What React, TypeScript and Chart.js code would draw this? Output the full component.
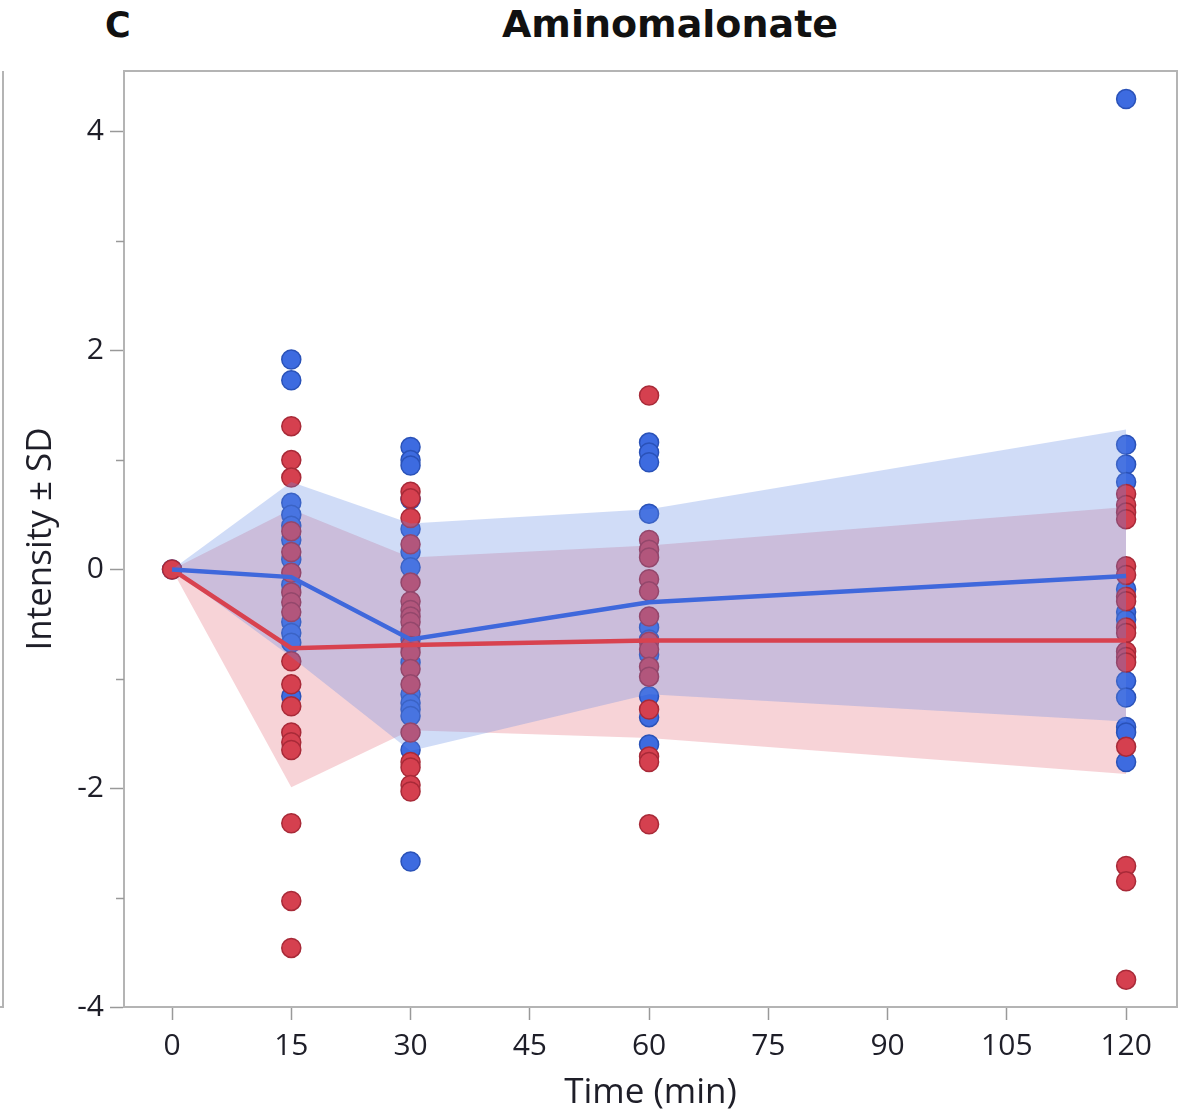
import React, { useEffect, useRef } from "react";
import { Chart, registerables } from "chart.js";

Chart.register(...registerables);

const TIMES = [0, 15, 30, 60, 120];
const X_TICKS = [0, 15, 30, 45, 60, 75, 90, 105, 120];
const Y_TICKS = [-4, -2, 0, 2, 4];
const Y_MINOR = [-3, -1, 1, 3];

const BLUE_MEAN = [0, -0.07, -0.64, -0.3, -0.06];
const BLUE_UPPER = [0, 0.8, 0.42, 0.55, 1.28];
const BLUE_LOWER = [0, -0.8, -1.66, -1.14, -1.39];

const RED_MEAN = [0, -0.72, -0.69, -0.65, -0.65];
const RED_UPPER = [0, 0.55, 0.11, 0.22, 0.57];
const RED_LOWER = [0, -1.99, -1.47, -1.54, -1.87];

const BLUE_0 = [0];
const BLUE_15 = [1.92, 1.73, 0.61, 0.5, 0.4, 0.27, 0.09, -0.14, -0.48, -0.58, -0.67, -1.16];
const BLUE_30 = [1.12, 1.0, 0.95, 0.64, 0.37, 0.16, 0.02, -0.64, -0.85, -1.14, -1.22, -1.28, -1.34, -1.65, -2.67];
const BLUE_60 = [1.16, 1.07, 0.98, 0.51, -0.53, -0.64, -0.78, -1.16, -1.35, -1.6];
const BLUE_120 = [4.3, 1.14, 0.96, 0.8, -0.18, -0.39, -0.46, -1.02, -1.17, -1.44, -1.49, -1.76];

const RED_0 = [0];
const RED_15 = [1.31, 1.0, 0.84, 0.35, 0.16, -0.03, -0.21, -0.3, -0.39, -0.84, -1.05, -1.25, -1.49, -1.58, -1.65, -2.32, -3.03, -3.46];
const RED_30 = [0.71, 0.65, 0.47, 0.23, -0.12, -0.29, -0.37, -0.43, -0.48, -0.57, -0.7, -0.76, -0.91, -1.05, -1.49, -1.76, -1.81, -1.97, -2.03];
const RED_60 = [1.59, 0.27, 0.18, 0.11, -0.09, -0.2, -0.43, -0.66, -0.73, -0.89, -0.98, -1.28, -1.71, -1.76, -2.33];
const RED_120 = [0.69, 0.59, 0.52, 0.46, 0.03, -0.05, -0.25, -0.29, -0.53, -0.58, -0.75, -0.8, -0.85, -1.62, -2.71, -2.85, -3.75];

const BLUE_POINTS = [BLUE_0, BLUE_15, BLUE_30, BLUE_60, BLUE_120];
const RED_POINTS = [RED_0, RED_15, RED_30, RED_60, RED_120];

const toXY = (vals: number[]) => TIMES.map((t, i) => ({ x: t, y: vals[i] }));
const toScatter = (groups: number[][]) =>
  groups.flatMap((g, i) => g.map((v) => ({ x: TIMES[i], y: v })));

const FONT = "'Open Sans', 'Noto Sans', sans-serif";
const FRAME = "#b4b4b4";

const framePlugin = {
  id: "frameAndMinor",
  afterDraw(chart: any) {
    const { ctx, chartArea } = chart;
    const y = chart.scales.y;
    ctx.save();
    ctx.strokeStyle = FRAME;
    ctx.lineWidth = 2;
    ctx.strokeRect(chartArea.left, chartArea.top, chartArea.right - chartArea.left, chartArea.bottom - chartArea.top);
    ctx.lineWidth = 1.5;
    ctx.strokeStyle = "#999";
    Y_MINOR.forEach((v) => {
      const py = Math.round(y.getPixelForValue(v)) + 0.5;
      ctx.beginPath();
      ctx.moveTo(chartArea.left - 8, py);
      ctx.lineTo(chartArea.left, py);
      ctx.stroke();
    });
    ctx.restore();
  },
};

export default function App() {
  const ref = useRef<HTMLCanvasElement | null>(null);
  useEffect(() => {
    if (!ref.current) return;
    const chart = new Chart(ref.current, {
      type: "line",
      data: {
        datasets: [
          {
            label: "red upper",
            data: toXY(RED_UPPER),
            borderWidth: 0,
            pointRadius: 0,
            fill: 1,
            backgroundColor: "rgba(222,80,95,0.25)",
            borderColor: "rgba(0,0,0,0)",
            order: 10,
          },
          {
            label: "red lower",
            data: toXY(RED_LOWER),
            borderWidth: 0,
            pointRadius: 0,
            fill: false,
            borderColor: "rgba(0,0,0,0)",
            order: 10,
          },
          {
            type: "scatter",
            label: "blue points",
            data: toScatter(BLUE_POINTS),
            pointRadius: 9.5,
            pointBackgroundColor: "#3d6be0",
            pointBorderColor: "#2a52b8",
            pointBorderWidth: 1.5,
            showLine: false,
            order: 8,
          },
          {
            type: "scatter",
            label: "red points",
            data: toScatter(RED_POINTS),
            pointRadius: 9.5,
            pointBackgroundColor: "#d5404f",
            pointBorderColor: "#a82a38",
            pointBorderWidth: 1.5,
            showLine: false,
            order: 7,
          },
          {
            label: "blue upper",
            data: toXY(BLUE_UPPER),
            borderWidth: 0,
            pointRadius: 0,
            fill: 5,
            backgroundColor: "rgba(100,140,230,0.3)",
            borderColor: "rgba(0,0,0,0)",
            order: 5,
          },
          {
            label: "blue lower",
            data: toXY(BLUE_LOWER),
            borderWidth: 0,
            pointRadius: 0,
            fill: false,
            borderColor: "rgba(0,0,0,0)",
            order: 5,
          },
          {
            label: "red mean",
            data: toXY(RED_MEAN),
            borderColor: "#d8424f",
            borderWidth: 4.5,
            pointRadius: 0,
            fill: false,
            order: 2,
          },
          {
            label: "blue mean",
            data: toXY(BLUE_MEAN),
            borderColor: "#3f68dc",
            borderWidth: 4.5,
            pointRadius: 0,
            fill: false,
            order: 1,
          },
        ],
      } as any,
      options: {
        animation: false,
        responsive: false,
        events: [],
        layout: { padding: { top: 71, right: 26, left: 0, bottom: 0 } },
        plugins: {
          legend: { display: false },
          tooltip: { enabled: false },
          title: { display: false },
        },
        scales: {
          x: {
            type: "linear",
            min: -6.04,
            max: 126.4,
            afterBuildTicks: (s: any) => {
              s.ticks = X_TICKS.map((v) => ({ value: v }));
            },
            afterFit: (s: any) => {
              s.height = 113;
            },
            ticks: {
              color: "#1e1e28",
              font: { family: FONT, size: 30 },
              padding: 8,
              maxRotation: 0,
              autoSkip: false,
            },
            grid: {
              display: true,
              drawOnChartArea: false,
              drawTicks: true,
              tickLength: 13,
              tickColor: "#999",
              tickWidth: 1.5,
            },
            border: { display: true, color: FRAME, width: 2 },
            title: {
              display: true,
              text: "Time (min)",
              color: "#1e1e28",
              font: { family: FONT, size: 35 },
              padding: { top: 0, bottom: 6 },
            },
          },
          y: {
            type: "linear",
            min: -4,
            max: 4.557,
            afterBuildTicks: (s: any) => {
              s.ticks = Y_TICKS.map((v) => ({ value: v }));
            },
            afterFit: (s: any) => {
              s.width = 124;
            },
            ticks: {
              color: "#1e1e28",
              font: { family: FONT, size: 30 },
              padding: 6,
            },
            grid: {
              display: true,
              drawOnChartArea: false,
              drawTicks: true,
              tickLength: 14,
              tickColor: "#999",
              tickWidth: 1.5,
            },
            border: { display: true, color: FRAME, width: 2 },
            title: {
              display: true,
              text: "Intensity ± SD",
              color: "#1e1e28",
              font: { family: FONT, size: 35 },
              padding: { top: 20, bottom: 0 },
            },
          },
        },
      } as any,
      plugins: [framePlugin],
    });
    return () => chart.destroy();
  }, []);

  return (
    <div style={{ position: "absolute", left: 0, top: 0, width: 1203, height: 1120, background: "#fff" }}>
      <div
        style={{
          position: "absolute",
          left: 0,
          top: 71,
          width: 2,
          height: 935,
          borderRight: `2px solid ${FRAME}`,
          borderBottom: `2px solid ${FRAME}`,
        }}
      />
      <div
        style={{
          position: "absolute",
          left: 105,
          top: 5,
          fontFamily: "'DejaVu Sans', sans-serif",
          fontWeight: "bold",
          fontSize: 35,
          lineHeight: "40px",
          color: "#111",
        }}
      >
        C
      </div>
      <div
        style={{
          position: "absolute",
          left: 470,
          top: 4,
          width: 400,
          textAlign: "center",
          fontFamily: "'DejaVu Sans', sans-serif",
          fontWeight: "bold",
          fontSize: 38,
          lineHeight: "40px",
          color: "#111",
        }}
      >
        Aminomalonate
      </div>
      <canvas ref={ref} width={1203} height={1120} style={{ position: "absolute", left: 0, top: 0 }} />
    </div>
  );
}
